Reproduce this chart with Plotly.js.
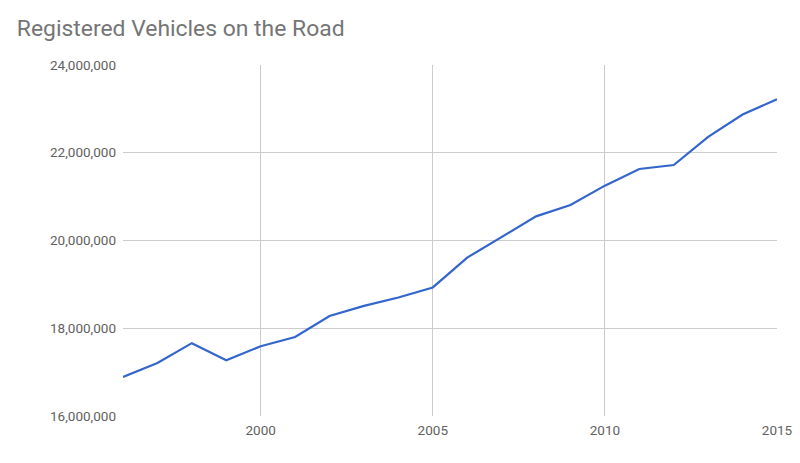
<!DOCTYPE html>
<html>
<head>
<meta charset="utf-8">
<script src="https://cdn.plot.ly/plotly-3.0.1.min.js"></script>
<style>html,body{margin:0;padding:0;background:#fff;}#chart{width:800px;height:463px;}</style>
</head>
<body>
<div id="chart"></div>
<script>
const years = [1996,1997,1998,1999,2000,2001,2002,2003,2004,2005,2006,2007,2008,2009,2010,2011,2012,2013,2014,2015];
const vehicles = [16890000,17210000,17660000,17270000,17590000,17800000,18280000,18510000,18700000,18930000,19610000,20080000,20550000,20810000,21250000,21630000,21720000,22360000,22870000,23220000];
const yTicks = [16000000,18000000,20000000,22000000,24000000];
const yTickLabels = ["16,000,000","18,000,000","20,000,000","22,000,000","24,000,000"];
const xTicks = [2000,2005,2010,2015];
const xTickLabels = ["2000","2005","2010","2015"];

const trace = {
  x: years, y: vehicles, type: 'scatter', mode: 'lines',
  line: {color: '#3366cc', width: 2.2},
  hoverinfo: 'x+y'
};
const layout = {
  width: 800, height: 463,
  margin: {l: 123, r: 23, t: 65, b: 47},
  paper_bgcolor: '#fff', plot_bgcolor: '#fff',
  font: {family: 'Roboto, sans-serif', color: '#616161', size: 13.5},
  title: {text: 'Registered Vehicles on the Road', x: 0.021, xref: 'container', xanchor: 'left',
          y: 0.94, yref: 'container', yanchor: 'middle',
          font: {family: 'Roboto, sans-serif', size: 22.9, color: '#757575'}},
  showlegend: false,
  xaxis: {range: [1996, 2015], tickvals: xTicks, ticktext: xTickLabels, showgrid: true, gridcolor: '#cccccc', gridwidth: 1,
          zeroline: false, showline: false, ticks: '', ticklabelstandoff: 4, tickfont: {size: 13.5, color: '#616161'}},
  yaxis: {range: [16000000, 24000000], tickvals: yTicks, ticktext: yTickLabels, showgrid: true, gridcolor: '#cccccc', gridwidth: 1,
          zeroline: false, showline: false, ticks: '', ticklabelstandoff: 6, tickfont: {size: 13.5, color: '#616161'}}
};
Plotly.newPlot('chart', [trace], layout, {displayModeBar: false, staticPlot: true});
</script>
</body>
</html>
